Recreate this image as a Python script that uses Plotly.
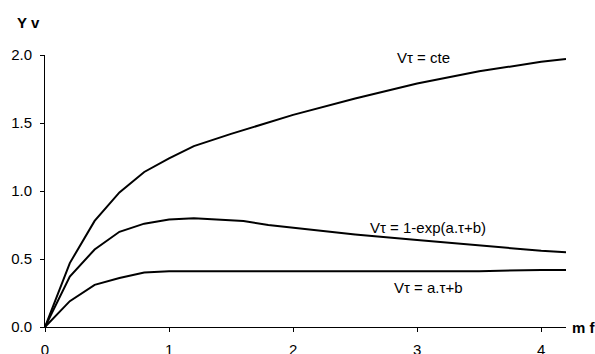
import plotly.graph_objects as go

x_cte = [0, 0.2, 0.4, 0.6, 0.8, 1.0, 1.2, 1.5, 2.0, 2.5, 3.0, 3.5, 4.0, 4.2]
y_cte = [0, 0.47, 0.78, 0.99, 1.14, 1.24, 1.33, 1.42, 1.56, 1.68, 1.79, 1.88, 1.95, 1.97]

x_exp = [0, 0.2, 0.4, 0.6, 0.8, 1.0, 1.2, 1.6, 1.8, 2.0, 2.5, 3.0, 3.5, 4.0, 4.2]
y_exp = [0, 0.37, 0.57, 0.70, 0.76, 0.79, 0.80, 0.78, 0.75, 0.73, 0.68, 0.64, 0.60, 0.56, 0.55]

x_lin = [0, 0.2, 0.4, 0.6, 0.8, 1.0, 1.5, 2.0, 2.5, 3.0, 3.5, 4.0, 4.2]
y_lin = [0, 0.19, 0.31, 0.36, 0.40, 0.41, 0.41, 0.41, 0.41, 0.41, 0.41, 0.42, 0.42]

labels = ["Vτ = cte", "Vτ = 1-exp(a.τ+b)", "Vτ = a.τ+b"]
label_x = [3.05, 3.09, 3.09]
label_y = [1.98, 0.73, 0.29]

x_ticks = [0, 1, 2, 3, 4]
y_ticks = [0, 0.5, 1.0, 1.5, 2.0]

FONT = "Liberation Sans, Arial, sans-serif"

fig = go.Figure()
for xs, ys in [(x_cte, y_cte), (x_exp, y_exp), (x_lin, y_lin)]:
    fig.add_trace(go.Scatter(x=xs, y=ys, mode="lines",
                             line=dict(color="black", width=2),
                             showlegend=False, hoverinfo="skip"))

for t, lx, ly in zip(labels, label_x, label_y):
    fig.add_annotation(x=lx, y=ly, text=t, showarrow=False,
                       font=dict(family=FONT, size=15, color="black"))

fig.add_annotation(xref="paper", yref="paper", x=-0.032, y=1.12, text="<b>Y v</b>",
                   showarrow=False, xanchor="center", yanchor="middle",
                   font=dict(family=FONT, size=15, color="black"))
fig.add_annotation(xref="paper", yref="paper", x=1.008, y=0.0, text="<b>m f</b>",
                   showarrow=False, xanchor="left", yanchor="middle",
                   font=dict(family=FONT, size=15, color="black"))

fig.update_layout(
    width=595, height=354,
    margin=dict(l=45, r=29, t=55, b=27),
    paper_bgcolor="white", plot_bgcolor="white",
    font=dict(family=FONT, size=15, color="black"),
    xaxis=dict(range=[0, 4.2], tickvals=x_ticks, ticktext=[str(v) for v in x_ticks],
               showgrid=False, zeroline=False, showline=True, linecolor="black",
               linewidth=1, ticks="outside", ticklen=4, tickcolor="black",
               automargin=False, ticklabelstandoff=5),
    yaxis=dict(range=[0, 2.0], tickvals=y_ticks, tickformat=".1f",
               showgrid=False, zeroline=False, showline=True, linecolor="black",
               linewidth=1, ticks="outside", ticklen=4, tickcolor="black",
               automargin=False, ticklabelstandoff=5),
)

fig.write_html("out.html", config={"displayModeBar": False},
               post_script="document.body.style.margin='0';document.body.style.overflow='hidden';")
